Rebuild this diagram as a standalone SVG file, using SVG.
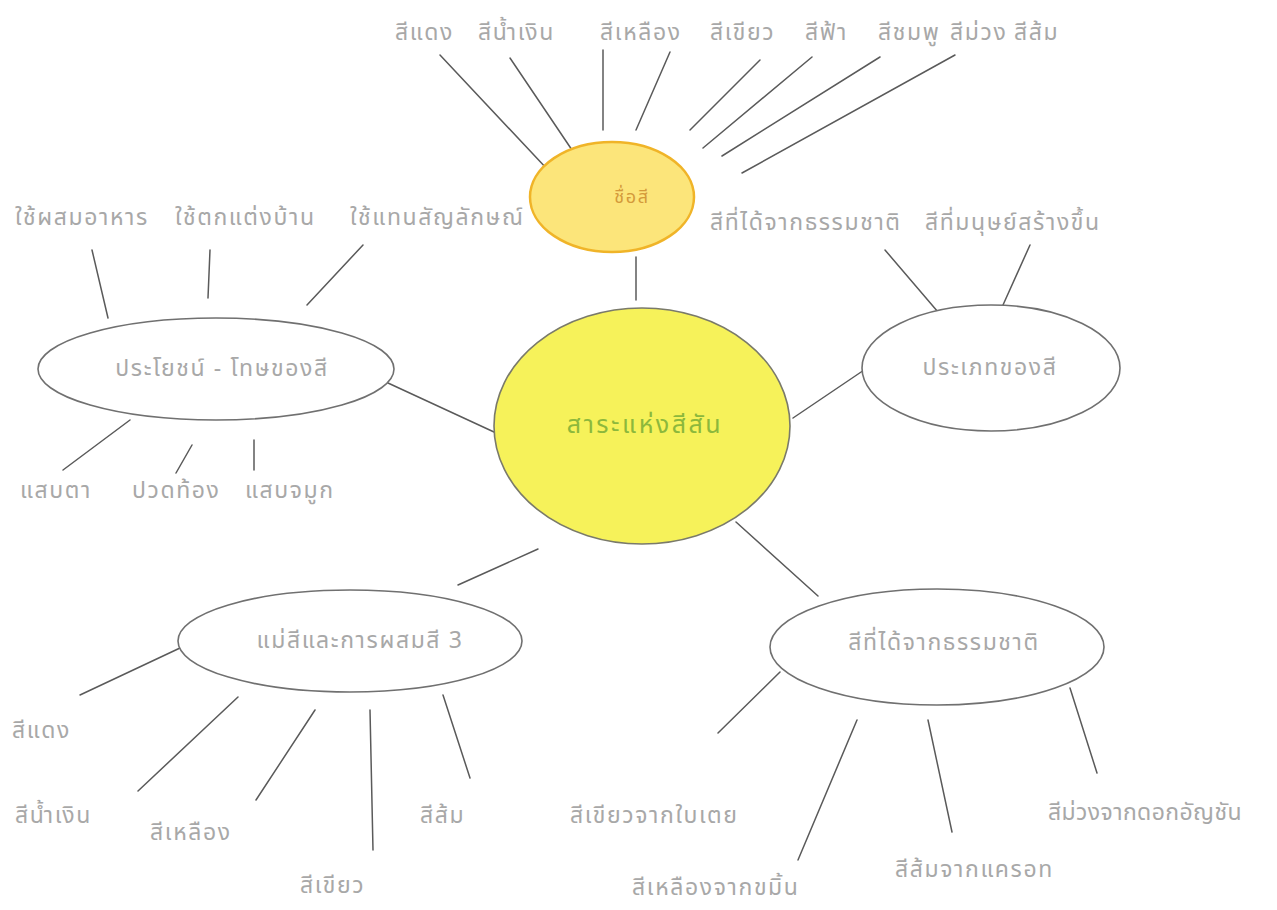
<svg xmlns="http://www.w3.org/2000/svg" width="1277" height="910" viewBox="0 0 1277 910">
<style>
.t{font-family:"Noto Sans Thai","Noto Sans","Liberation Sans",sans-serif;font-size:23px;letter-spacing:1.6px;fill:#a8a8a8;}
.n{fill:#ffffff;stroke:#707070;stroke-width:1.6;}
.c line{stroke:#5a5a5a;stroke-width:1.5;stroke-linecap:round;}
</style>
<rect width="1277" height="910" fill="#ffffff"/>
<g class="c" id="connectors">
<line x1="636" y1="257" x2="636" y2="300"/>
<line x1="388" y1="383" x2="494" y2="432"/>
<line x1="793" y1="418" x2="870" y2="366"/>
<line x1="458" y1="585" x2="538" y2="549"/>
<line x1="736" y1="522" x2="818" y2="596"/>
<line x1="440" y1="55" x2="548" y2="170"/>
<line x1="510" y1="58" x2="572" y2="150"/>
<line x1="603" y1="50" x2="603" y2="130"/>
<line x1="670" y1="52" x2="636" y2="130"/>
<line x1="760" y1="60" x2="690" y2="130"/>
<line x1="812" y1="57" x2="703" y2="148"/>
<line x1="880" y1="57" x2="722" y2="156"/>
<line x1="955" y1="55" x2="742" y2="173"/>
<line x1="92" y1="250" x2="108" y2="318"/>
<line x1="210" y1="250" x2="208" y2="298"/>
<line x1="363" y1="245" x2="307" y2="305"/>
<line x1="885" y1="250" x2="938" y2="312"/>
<line x1="1030" y1="245" x2="1003" y2="305"/>
<line x1="130" y1="420" x2="63" y2="470"/>
<line x1="192" y1="445" x2="176" y2="473"/>
<line x1="254" y1="440" x2="254" y2="470"/>
<line x1="180" y1="648" x2="80" y2="695"/>
<line x1="238" y1="697" x2="138" y2="791"/>
<line x1="315" y1="710" x2="256" y2="800"/>
<line x1="370" y1="710" x2="373" y2="850"/>
<line x1="443" y1="695" x2="470" y2="778"/>
<line x1="780" y1="672" x2="718" y2="733"/>
<line x1="857" y1="720" x2="798" y2="860"/>
<line x1="928" y1="720" x2="952" y2="832"/>
<line x1="1070" y1="688" x2="1097" y2="773"/>
</g>
<g id="center">
<ellipse cx="642" cy="426" rx="148" ry="118" fill="#f6f25a" stroke="#7a7a6a" stroke-width="1.6"/>
<text x="645" y="433" text-anchor="middle" class="t" style="fill:#8cb83c;font-size:25px;letter-spacing:2.5px">สาระแห่งสีสัน</text>
</g>
<g id="colornames">
<ellipse cx="612" cy="197" rx="82" ry="55" fill="#fce57a" stroke="#f0b428" stroke-width="2.5"/>
<text x="632" y="203" text-anchor="middle" class="t" style="fill:#d49a3a;font-size:18px">ชื่อสี</text>
</g>
<g id="benefit">
<ellipse class="n" cx="216" cy="369" rx="178" ry="51"/>
<text x="222" y="376" text-anchor="middle" class="t">ประโยชน์ - โทษของสี</text>
</g>
<g id="types">
<ellipse class="n" cx="991" cy="368" rx="129" ry="63"/>
<text x="990" y="375" text-anchor="middle" class="t">ประเภทของสี</text>
</g>
<g id="primary">
<ellipse class="n" cx="350" cy="641" rx="172" ry="51"/>
<text x="360" y="648" text-anchor="middle" class="t">แม่สีและการผสมสี 3</text>
</g>
<g id="natural">
<ellipse class="n" cx="937" cy="647" rx="167" ry="58"/>
<text x="944" y="650" text-anchor="middle" class="t">สีที่ได้จากธรรมชาติ</text>
</g>
<g id="labels">
<text x="395" y="40" class="t">สีแดง</text>
<text x="478" y="40" class="t">สีน้ำเงิน</text>
<text x="600" y="40" class="t">สีเหลือง</text>
<text x="710" y="40" class="t">สีเขียว</text>
<text x="805" y="40" class="t">สีฟ้า</text>
<text x="878" y="40" class="t">สีชมพู</text>
<text x="950" y="40" class="t">สีม่วง</text>
<text x="1014" y="40" class="t">สีส้ม</text>
<text x="15" y="225" class="t">ใช้ผสมอาหาร</text>
<text x="175" y="225" class="t">ใช้ตกแต่งบ้าน</text>
<text x="350" y="225" class="t">ใช้แทนสัญลักษณ์</text>
<text x="710" y="230" class="t">สีที่ได้จากธรรมชาติ</text>
<text x="925" y="230" class="t">สีที่มนุษย์สร้างขึ้น</text>
<text x="20" y="498" class="t">แสบตา</text>
<text x="132" y="498" class="t">ปวดท้อง</text>
<text x="245" y="498" class="t">แสบจมูก</text>
<text x="12" y="738" class="t">สีแดง</text>
<text x="15" y="823" class="t">สีน้ำเงิน</text>
<text x="150" y="840" class="t">สีเหลือง</text>
<text x="300" y="893" class="t">สีเขียว</text>
<text x="420" y="823" class="t">สีส้ม</text>
<text x="570" y="823" class="t">สีเขียวจากใบเตย</text>
<text x="632" y="895" class="t">สีเหลืองจากขมิ้น</text>
<text x="895" y="877" class="t">สีส้มจากแครอท</text>
<text x="1048" y="820" class="t" style="letter-spacing:0.4px">สีม่วงจากดอกอัญชัน</text>
</g>
</svg>
